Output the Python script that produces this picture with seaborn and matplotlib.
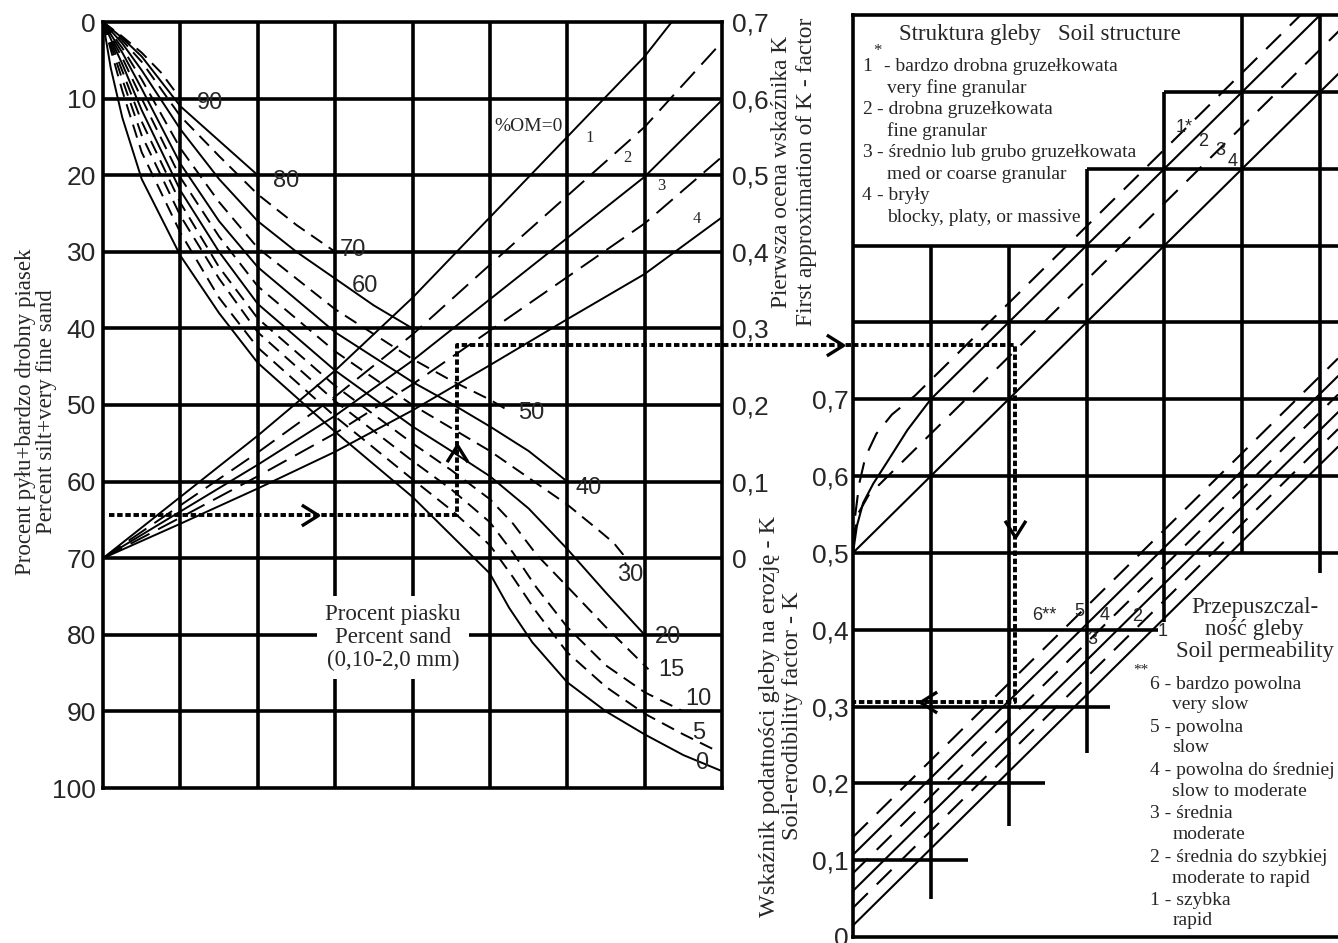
import matplotlib
matplotlib.use("Agg")
import matplotlib.pyplot as plt
from matplotlib.path import Path
import seaborn as sns

sns.set_style("white")
plt.rcParams["font.family"] = ["Liberation Sans", "DejaVu Sans"]
SERIF = ["Liberation Serif", "DejaVu Serif"]

# ---------------- left nomogram: x = grid column (0-8), y = % silt + very fine sand
silt_ticks = [0, 10, 20, 30, 40, 50, 60, 70, 80, 90, 100]
k1_ticks = [0, 0.1, 0.2, 0.3, 0.4, 0.5, 0.6, 0.7]
k1_labels = ["0", "0,1", "0,2", "0,3", "0,4", "0,5", "0,6", "0,7"]

sand_pct = [90, 80, 70, 60, 50, 40, 30, 20, 15, 10, 5, 0]
sand_dashed = [True, False, True, False, True, False, True, False, True, True, True, False]
sand_x = {
    90: [0, 0.25, 0.5, 0.75, 1],
    80: [0, 0.25, 0.5, 1, 1.5, 2],
    70: [0, 0.25, 0.5, 1, 1.5, 2, 2.5, 3],
    60: [0, 0.25, 0.5, 1, 1.5, 2, 2.5, 3, 3.5, 4],
    50: [0, 0.25, 0.5, 1, 1.5, 2, 3, 4, 4.5, 5, 5.2],
    40: [0, 0.25, 0.5, 1, 1.5, 2, 3, 4, 4.5, 5, 5.5, 6],
    30: [0, 0.25, 0.5, 1, 1.5, 2, 3, 4, 4.5, 5, 5.5, 6, 6.4, 6.6, 6.72, 6.76],
    20: [0, 0.25, 0.5, 1, 1.5, 2, 3, 4, 4.5, 5, 5.5, 6, 6.5, 7],
    15: [0, 0.25, 0.5, 1, 1.5, 2, 3, 4, 4.5, 5, 5.3, 5.6, 6, 6.5, 7.05],
    10: [0, 0.25, 0.5, 1, 1.5, 2, 3, 4, 4.5, 5, 5.3, 5.6, 6, 6.5, 7, 7.5],
    5: [0, 0.25, 0.5, 1, 1.5, 2, 3, 4, 4.5, 5, 5.3, 5.6, 6, 6.5, 7, 7.5, 7.9],
    0: [0, 0.1, 0.25, 0.5, 1, 1.5, 2, 3, 4, 4.5, 5, 5.25, 5.55, 6, 6.5, 7, 7.5, 8],
}
sand_y = {
    90: [0, 1.9, 4, 6.6, 10],
    80: [0, 2.1, 4.5, 11, 15.5, 20],
    70: [0, 2.4, 5.2, 12.3, 17.5, 22.5, 26.5, 30],
    60: [0, 2.8, 6.3, 14, 20.5, 26, 30, 33.5, 37, 40],
    50: [0, 3.4, 7.5, 16.5, 23.5, 29.5, 37.5, 44, 46.8, 49.3, 50.5],
    40: [0, 4, 8.7, 18.5, 26, 32, 40.5, 47, 49.8, 52.8, 56, 60],
    30: [0, 4.7, 10, 20.3, 28, 34.5, 43, 50, 53, 56, 59.5, 63, 66.3, 68, 69.5, 71],
    20: [0, 5.5, 11.5, 22, 30, 36.8, 45.5, 52.8, 56, 59.3, 63.5, 68.8, 74.5, 80],
    15: [0, 6.4, 13, 23.6, 32, 38.7, 47.5, 55, 58.5, 62.3, 65.5, 69.5, 73.7, 79, 84.5],
    10: [0, 7.5, 14.8, 25.3, 33.5, 40.5, 49.5, 57.3, 61, 65.3, 69.3, 73.8, 79, 84, 87.5, 90],
    5: [0, 9, 17, 27.5, 36, 42.5, 51.5, 59.7, 63.7, 68.3, 72.5, 77, 82.3, 86.8, 90.3, 93, 95],
    0: [0, 6, 12.5, 20.5, 30.5, 38, 44.5, 53.5, 62, 67, 72, 76.5, 81, 86.2, 90, 93, 95.7, 97.8],
}
sand_label_pos = {90: (1.21, 10.6), 80: (2.2, 20.8), 70: (3.06, 29.8), 60: (3.22, 34.5),
                  50: (5.37, 51), 40: (6.11, 60.8), 30: (6.65, 72.2), 20: (7.13, 80.3),
                  15: (7.17, 84.6), 10: (7.52, 88.4), 5: (7.62, 92.8), 0: (7.65, 96.7)}

om_levels = [0, 1, 2, 3, 4]
om_dashed = [False, True, False, True, False]
om_x = {0: [0, 1, 2, 3, 4, 5, 6, 7, 7.35],
        1: [0, 1, 2, 3, 4, 5, 6, 7, 8],
        2: [0, 1, 2, 3, 4, 5, 6, 7, 8],
        3: [0, 1, 2, 3, 4, 5, 6, 7, 8],
        4: [0, 1, 2, 3, 4, 5, 6, 7, 8]}
om_y = {0: [70, 62, 54, 45.5, 36, 25.5, 15, 4.5, 0],
        1: [70, 63.1, 56.2, 48.9, 40.8, 31.7, 22.7, 13.7, 2.6],
        2: [70, 63.9, 57.8, 51.4, 44.2, 36.2, 28.2, 20.2, 10.2],
        3: [70, 64.7, 59.3, 53.7, 47.3, 40.3, 33.3, 26.3, 17.6],
        4: [70, 65.5, 60.9, 56.1, 50.7, 44.8, 38.8, 32.9, 25.5]}
om_label_pos = {1: (6.29, 15.1), 2: (6.78, 17.8), 3: (7.22, 21.4), 4: (7.67, 25.7)}

# example path (left panel)
path_left_x = [0.08, 4.57, 4.57, 9.7]
path_left_y = [64.4, 64.4, 42.2, 42.2]

# ---------------- right nomogram: x = grid column, y = K
k_ticks = [0, 0.1, 0.2, 0.3, 0.4, 0.5, 0.6, 0.7]
k_labels = ["0", "0,1", "0,2", "0,3", "0,4", "0,5", "0,6", "0,7"]

struct_ids = [1, 2, 3, 4]
struct_dashed = [True, False, True, False]
struct_x = {1: [0, 0.03, 0.08, 0.16, 0.3, 0.5, 0.8, 1.2, 5.75],
            2: [0, 0.05, 0.13, 0.26, 0.45, 0.7, 1.0, 6.0],
            3: [0, 0.06, 0.2, 6.45],
            4: [0, 7]}
struct_k = {1: [0.505, 0.55, 0.59, 0.625, 0.655, 0.68, 0.705, 0.745, 1.2],
            2: [0.5, 0.535, 0.565, 0.59, 0.62, 0.66, 0.70, 1.2],
            3: [0.51, 0.55, 0.575, 1.2],
            4: [0.5, 1.2]}
struct_label_pos = {"1*": (4.26, 1.053), "2": (4.5, 1.036), "3": (4.72, 1.024), "4": (4.88, 1.009)}

perm_ids = [1, 2, 3, 4, 5, 6]
perm_dashed = [False, True, False, True, False, True]
perm_k_left = [0.015, 0.038, 0.06, 0.083, 0.107, 0.13]
perm_k_right = [0.638, 0.661, 0.683, 0.706, 0.730, 0.753]
perm_label_pos = {"6**": (2.46, 0.419), "5": (2.91, 0.423), "4": (3.23, 0.419),
                  "3": (3.08, 0.387), "2": (3.65, 0.417), "1": (3.98, 0.397)}

path_right_x = [0, 2.08, 2.08, 0]
path_right_k = [0.771, 0.771, 0.306, 0.306]

struct_legend = ["bardzo drobna gruzełkowata", "very fine granular",
                 "drobna gruzełkowata", "fine granular",
                 "średnio lub grubo gruzełkowata", "med or coarse granular",
                 "bryły", "blocky, platy, or massive"]
perm_legend = ["6 - bardzo powolna", "very slow", "5 - powolna", "slow",
               "4 - powolna do średniej", "slow to moderate", "3 - średnia", "moderate",
               "2 - średnia do szybkiej", "moderate to rapid", "1 - szybka", "rapid"]

GRID_LW = 2.6
LINE_LW = 1.4


def chevron(direction):
    pts = {">": [(-1.6, 1), (0, 0), (-1.6, -1)], "<": [(1.6, 1), (0, 0), (1.6, -1)],
           "^": [(-1, -1.6), (0, 0), (1, -1.6)], "v": [(-1, 1.6), (0, 0), (1, 1.6)]}[direction]
    return Path(pts, [Path.MOVETO, Path.LINETO, Path.LINETO])


def draw(ax, xs, ys, dashed, dash=(7, 4), lw=LINE_LW, z=2):
    ls = (0, dash) if dashed else "-"
    sns.lineplot(x=xs, y=ys, ax=ax, sort=False, estimator=None, color="black",
                 lw=lw, linestyle=ls, zorder=z)


fig = plt.figure(figsize=(13.38, 9.43), dpi=100)
axL = fig.add_axes([103 / 1338, 1 - 788 / 943, 619 / 1338, 766 / 943])
axR = fig.add_axes([853 / 1338, 1 - 937 / 943, 485 / 1338, 922 / 943])

# ---- left panel
axL.hlines(silt_ticks[1:-1], 0, 8, color="black", lw=GRID_LW, zorder=1)
axL.vlines(range(1, 8), 0, 100, color="black", lw=GRID_LW, zorder=1)
for p, d in zip(sand_pct, sand_dashed):
    draw(axL, sand_x[p], sand_y[p], d)
    lx, ly = sand_label_pos[p]
    axL.text(lx, ly, str(p), fontsize=17, ha="left", va="center", zorder=4)
for m, d in zip(om_levels, om_dashed):
    draw(axL, om_x[m], om_y[m], d, dash=(11, 5))
for m, (lx, ly) in om_label_pos.items():
    axL.text(lx, ly, str(m), family=SERIF, fontsize=12, ha="center", va="center", zorder=4)
axL.text(5.94, 13.7, "%OM=0", family=SERIF, fontsize=14, ha="right", va="center", zorder=4)
axL.text(3.75, 80.3, "Procent piasku\nPercent sand\n(0,10-2,0 mm)", family=SERIF,
         fontsize=16.5, ha="center", va="center", linespacing=1.12, zorder=4,
         bbox=dict(boxstyle="square,pad=0.35", fc="white", ec="none"))

sns.lineplot(x=path_left_x, y=path_left_y, ax=axL, sort=False, estimator=None,
             color="black", lw=2.8, linestyle=(0, (1.4, 0.7)), zorder=5, clip_on=False)
for ax_, xs, ys, d in [(axL, 2.78, 64.4, ">"), (axL, 4.57, 55.2, "^"), (axL, 9.56, 42.2, ">")]:
    ax_.plot([xs], [ys], marker=chevron(d), ms=24, mew=2.4, mfc="none", mec="black",
             zorder=6, clip_on=False)

axL.set_xlim(0, 8)
axL.set_ylim(100, 0)
axL.set_xticks([])
axL.set_yticks(silt_ticks)
axL.set_yticklabels([str(v) for v in silt_ticks])
axL.tick_params(axis="y", length=0, pad=5, labelsize=19)
axL.set_xlabel("")
axL.set_ylabel("")
for s in axL.spines.values():
    s.set_linewidth(GRID_LW)
    s.set_color("black")

axK = axL.twinx()
axK.set_ylim(-0.3, 0.7)
axK.set_yticks(k1_ticks)
axK.set_yticklabels(k1_labels)
axK.tick_params(axis="y", length=0, pad=7, labelsize=19)
for s in axK.spines.values():
    s.set_visible(False)

# ---- right panel
xmax = 6.23
grid_h_k = [0.1, 0.2, 0.3, 0.4, 0.5, 0.6, 0.7, 0.8, 0.9, 1.0, 1.1]
grid_h_from = [0, 0, 0, 0, 0, 0, 0, 0, 0, 3, 4]
grid_h_to = [1.48, 2.46, 3.3, 3.92, xmax, xmax, xmax, xmax, xmax, xmax, xmax]
grid_v_col = [1, 2, 3, 4, 5, 6]
grid_v_from = [0.05, 0.145, 0.24, 0.41, 0.5, 0.474]
grid_v_to = [0.9, 0.9, 1.0, 1.1, 1.2, 1.2]
axR.hlines(grid_h_k, grid_h_from, grid_h_to, color="black", lw=GRID_LW, zorder=1)
axR.vlines(grid_v_col, grid_v_from, grid_v_to, color="black", lw=GRID_LW, zorder=1)

for i, d in zip(struct_ids, struct_dashed):
    draw(axR, struct_x[i], struct_k[i], d, dash=(10, 6), lw=1.5)
for t, (lx, ly) in struct_label_pos.items():
    axR.text(lx, ly, t, fontsize=13, ha="center", va="center", zorder=4)
for i, d, k0, k1 in zip(perm_ids, perm_dashed, perm_k_left, perm_k_right):
    draw(axR, [0, xmax], [k0, k1], d, dash=(10, 6), lw=1.5)
for t, (lx, ly) in perm_label_pos.items():
    axR.text(lx, ly, t, fontsize=13, ha="center", va="center", zorder=4)

sns.lineplot(x=path_right_x, y=path_right_k, ax=axR, sort=False, estimator=None,
             color="black", lw=2.8, linestyle=(0, (1.4, 0.7)), zorder=5)
for xs, ys, d in [(2.08, 0.521, "v"), (0.86, 0.306, "<")]:
    axR.plot([xs], [ys], marker=chevron(d), ms=24, mew=2.4, mfc="none", mec="black", zorder=6)

# structure legend
axR.text(2.4, 1.174, "Struktura gleby   Soil structure", family=SERIF, fontsize=16.5,
         ha="center", va="center")
legend_k = [1.133, 1.105, 1.077, 1.049, 1.021, 0.992, 0.965, 0.936]
for j, txt in enumerate(struct_legend):
    if j % 2 == 0:
        axR.text(0.115, legend_k[j], str(j // 2 + 1), family=SERIF, fontsize=14,
                 ha="left", va="center")
        axR.text(0.40 if j == 0 else 0.31, legend_k[j], "- " + txt, family=SERIF,
                 fontsize=14, ha="left", va="center")
    else:
        axR.text(0.44, legend_k[j], txt, family=SERIF, fontsize=14, ha="left", va="center")
axR.text(0.31, 1.153, "*", family=SERIF, fontsize=12, ha="center", va="center")

# permeability legend
axR.text(5.16, 0.40, "Przepuszczal-\nność gleby\nSoil permeability", family=SERIF,
         fontsize=16.5, ha="center", va="center", linespacing=1.08)
perm_k_text = [0.329, 0.302, 0.273, 0.246, 0.217, 0.189, 0.161, 0.133, 0.104, 0.076, 0.048, 0.021]
for j, txt in enumerate(perm_legend):
    axR.text(3.81 if j % 2 == 0 else 4.1, perm_k_text[j], txt, family=SERIF,
             fontsize=14, ha="left", va="center")
axR.text(3.79, 0.348, "**", family=SERIF, fontsize=11, ha="right", va="center")

axR.set_xlim(0, xmax)
axR.set_ylim(0, 1.2)
axR.set_xticks([])
axR.set_yticks(k_ticks)
axR.set_yticklabels(k_labels)
axR.tick_params(axis="y", length=0, pad=3, labelsize=19)
axR.set_xlabel("")
axR.set_ylabel("")
for name, s in axR.spines.items():
    s.set_linewidth(GRID_LW)
    s.set_color("black")
axR.spines["right"].set_visible(False)

# axis titles
fig.text(36 / 1338, 1 - 412 / 943, "Procent pyłu+bardzo drobny piasek\nPercent silt+very fine sand",
         family=SERIF, fontsize=16.5, rotation=90, ha="center", va="center", linespacing=1.0)
fig.text(794 / 1338, 1 - 172 / 943, "Pierwsza ocena wskaźnika K\nFirst approximation of K - factor",
         family=SERIF, fontsize=16.8, rotation=90, ha="center", va="center", linespacing=1.2)
fig.text(781 / 1338, 1 - 716 / 943, "Wskaźnik podatności gleby na erozję - K\nSoil-erodibility factor - K",
         family=SERIF, fontsize=17.5, rotation=90, ha="center", va="center", linespacing=1.15)

fig.savefig("out.png", dpi=100)
